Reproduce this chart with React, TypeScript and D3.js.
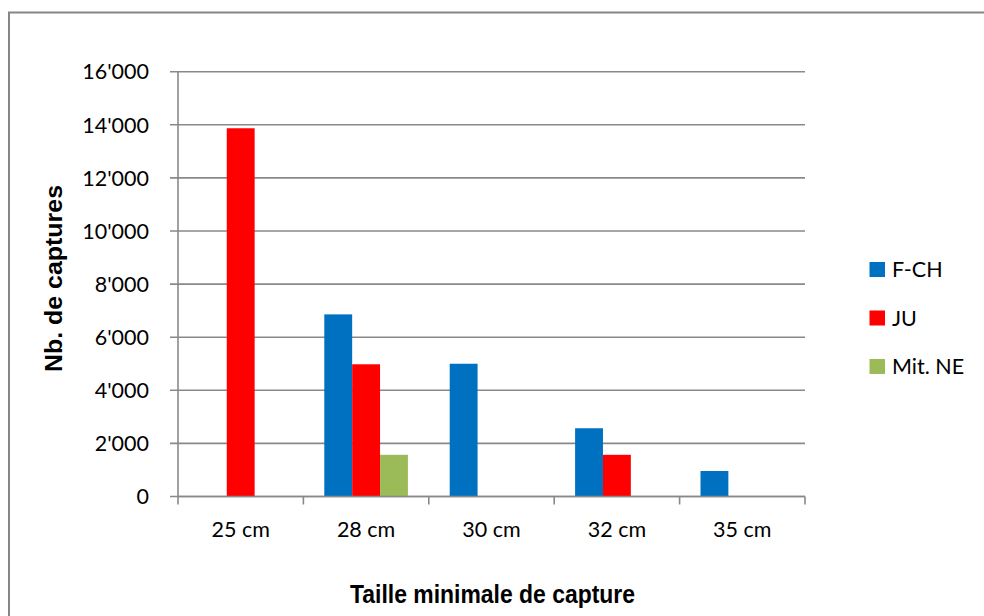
import * as d3 from "d3";

const categories = ["25 cm", "28 cm", "30 cm", "32 cm", "35 cm"];
const seriesNames = ["F-CH", "JU", "Mit. NE"];
const fch = [0, 6860, 5000, 2570, 960];
const ju = [13870, 4980, 0, 1570, 0];
const mitNe = [0, 1570, 0, 0, 0];
const yTicks = [0, 2000, 4000, 6000, 8000, 10000, 12000, 14000, 16000];

const colors = ["#0070C0", "#FF0000", "#9BBB59"];
const gridColor = "#898989";
const labelFont = "Lato, 'Open Sans', sans-serif";
const titleFont = "'Liberation Sans', Arial, sans-serif";

const fmt = (v: number) => d3.format(",")(v).replace(/,/g, "'");

export default function App() {
  const width = 984;
  const height = 616;
  const plot = { left: 178, right: 805, top: 71.7, bottom: 496.5 };

  const x = d3.scaleBand<string>().domain(categories).range([plot.left, plot.right]);
  const y = d3.scaleLinear().domain([0, 16000]).range([plot.bottom, plot.top]);

  // Excel-style clustered bars, gap width 150%
  const barW = x.bandwidth() / (seriesNames.length + 1.5);
  const series = [fch, ju, mitNe];

  return (
    <svg
      width={width}
      height={height}
      style={{ position: "absolute", left: 0, top: 0, display: "block", background: "#fff" }}
    >
      {/* chart border (runs past the right/bottom edge) */}
      <rect x={9} y={12.5} width={1100} height={700} fill="none" stroke="#868686" strokeWidth={2} />

      {/* gridlines + y tick labels */}
      {yTicks.map((t) => (
        <g key={t}>
          <line x1={plot.left - 8} x2={plot.right} y1={y(t)} y2={y(t)} stroke={gridColor} strokeWidth={1.6} />
          <text
            x={149}
            y={y(t)}
            dy="0.36em"
            textAnchor="end"
            fontFamily={labelFont}
            fontSize={21.5}
            fill="#000"
          >
            {fmt(t)}
          </text>
        </g>
      ))}

      {/* y axis */}
      <line x1={plot.left} x2={plot.left} y1={plot.top} y2={plot.bottom} stroke={gridColor} strokeWidth={1.6} />

      {/* bars */}
      {series.map((vals, si) =>
        vals.map((v, ci) =>
          v > 0 ? (
            <rect
              key={`${si}-${ci}`}
              x={(x(categories[ci]) ?? 0) + barW * 0.75 + barW * si}
              y={y(v)}
              width={barW}
              height={y(0) - y(v)}
              fill={colors[si]}
            />
          ) : null
        )
      )}

      {/* x axis */}
      <line x1={plot.left} x2={plot.right} y1={plot.bottom} y2={plot.bottom} stroke={gridColor} strokeWidth={1.6} />
      {[...categories.map((c) => x(c) ?? 0), plot.right].map((px, i) => (
        <line key={i} x1={px} x2={px} y1={plot.bottom} y2={plot.bottom + 8} stroke={gridColor} strokeWidth={1.6} />
      ))}
      {categories.map((c) => (
        <text
          key={c}
          x={(x(c) ?? 0) + x.bandwidth() / 2}
          y={537}
          textAnchor="middle"
          fontFamily={labelFont}
          fontSize={21.5}
          fill="#000"
        >
          {c}
        </text>
      ))}

      {/* axis titles */}
      <text
        x={492.5}
        y={602.5}
        textAnchor="middle"
        fontFamily={titleFont}
        fontWeight="bold"
        fontSize={26}
        textLength={285}
        lengthAdjust="spacingAndGlyphs"
        fill="#000"
      >
        Taille minimale de capture
      </text>
      <text
        transform="translate(62,278.5) rotate(-90)"
        textAnchor="middle"
        fontFamily={titleFont}
        fontWeight="bold"
        fontSize={23.5}
        textLength={187}
        lengthAdjust="spacingAndGlyphs"
        fill="#000"
      >
        Nb. de captures
      </text>

      {/* legend */}
      {seriesNames.map((name, i) => {
        const cy = 269.5 + i * 48.5;
        return (
          <g key={name}>
            <rect x={869.5} y={cy - 7.5} width={15.5} height={15} fill={colors[i]} />
            <text
              x={892}
              y={cy}
              dy="0.36em"
              fontFamily={labelFont}
              fontSize={21.5}
              fill="#000"
            >
              {name}
            </text>
          </g>
        );
      })}
    </svg>
  );
}
